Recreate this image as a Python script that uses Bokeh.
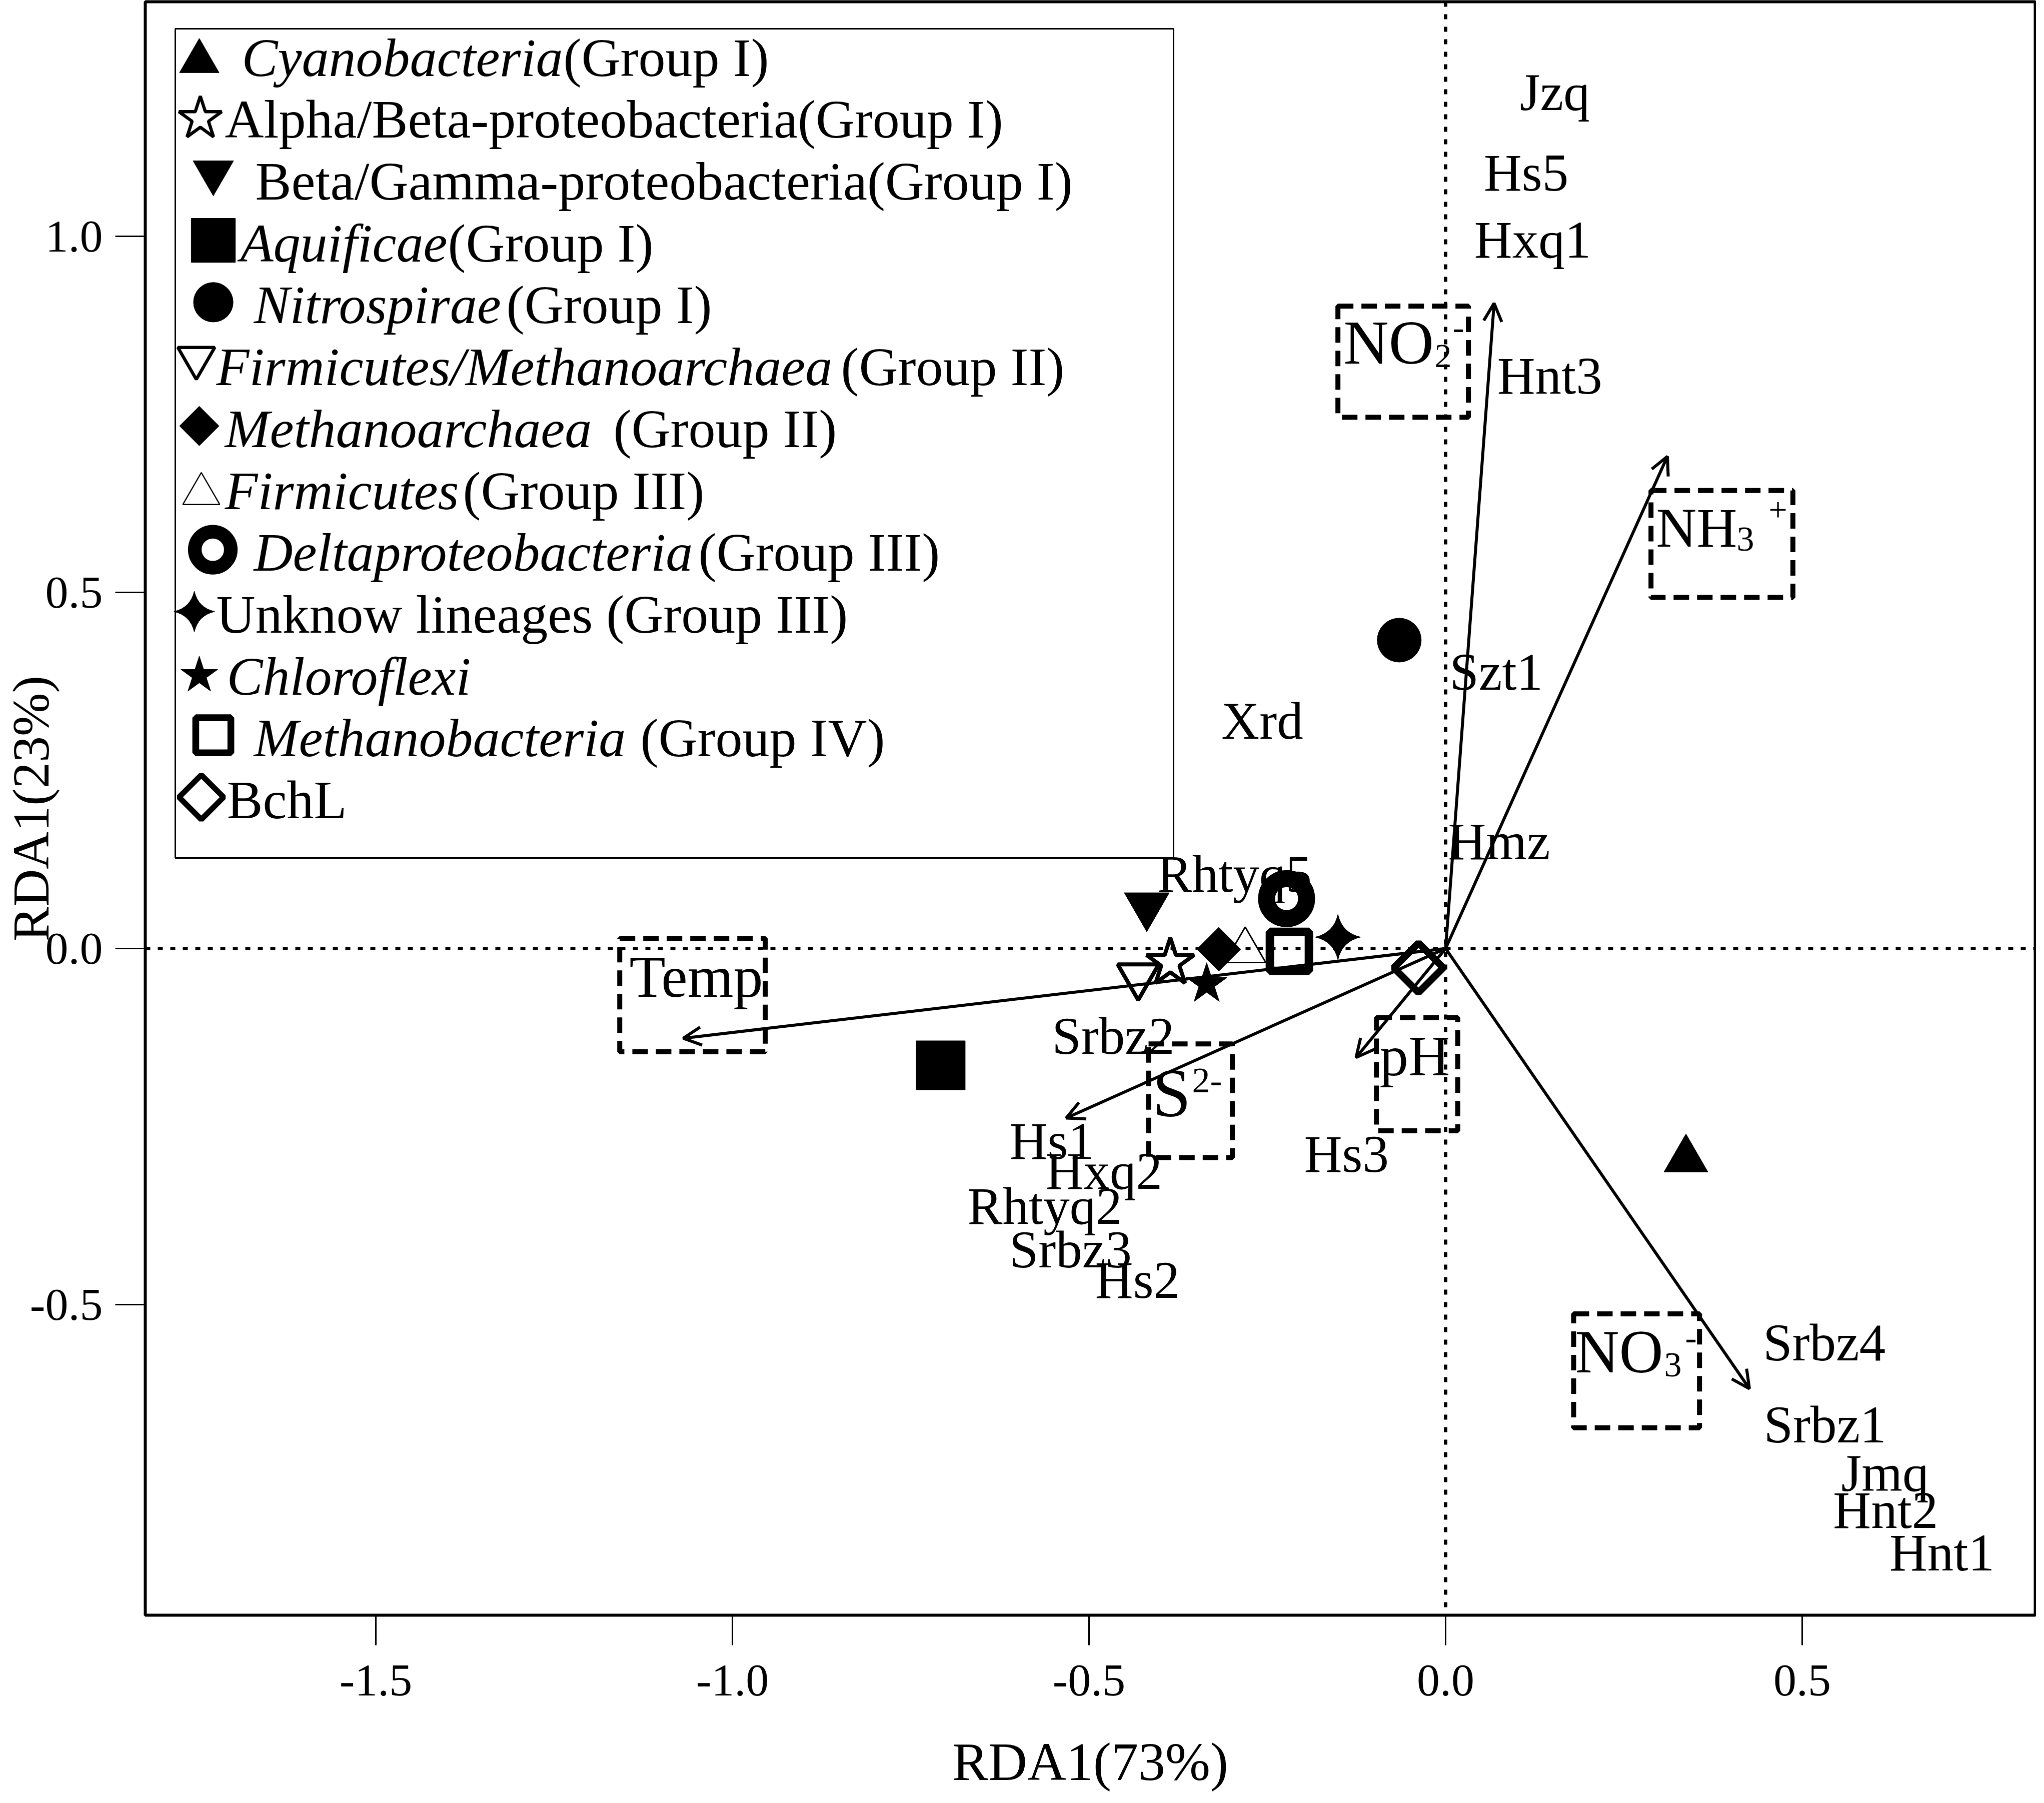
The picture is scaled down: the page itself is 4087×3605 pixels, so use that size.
from math import pi
from bokeh.plotting import figure
from bokeh.models import (Range1d, FixedTicker, PrintfTickFormatter, Span, Arrow,
                          OpenHead, ColumnDataSource)
from bokeh.core.properties import value
from bokeh.embed import file_html
from bokeh.resources import INLINE

FONT = "Liberation Serif"

# ---------------- data ----------------
taxa = ["Cyanobacteria", "Alpha/Beta-proteobacteria", "Beta/Gamma-proteobacteria",
        "Aquificae", "Nitrospirae", "Firmicutes/Methanoarchaea", "Methanoarchaea",
        "Firmicutes", "Deltaproteobacteria", "Unknow lineages", "Chloroflexi",
        "Methanobacteria", "BchL"]
taxa_x = [0.337, -0.386, -0.419, -0.708, -0.065, -0.431, -0.318,
          -0.281, -0.223, -0.151, -0.335, -0.219, -0.038]
taxa_y = [-0.296, -0.020, 0.060, -0.164, 0.433, -0.039, -0.001,
          -0.003, 0.070, 0.016, -0.050, -0.004, -0.027]

env = ["NO2-", "NH3+", "Temp", "S2-", "pH", "NO3-"]
env_x = [0.068, 0.311, -1.069, -0.532, -0.1255, 0.426]
env_y = [0.906, 0.691, -0.126, -0.238, -0.153, -0.618]
env_box_left = [-0.151, 0.288, -1.158, -0.4165, -0.097, 0.1795]
env_box_right = [0.032, 0.487, -0.954, -0.299, 0.017, 0.356]
env_box_top = [0.902, 0.643, 0.014, -0.134, -0.097, -0.513]
env_box_bottom = [0.746, 0.493, -0.145, -0.2935, -0.256, -0.673]

sites = ["Jzq", "Hs5", "Hxq1", "Hnt3", "Szt1", "Xrd", "Hmz", "Rhtyq5", "Srbz2", "Hs1",
         "Hxq2", "Rhtyq2", "Srbz3", "Hs2", "Hs3", "Srbz4", "Srbz1", "Jmq", "Hnt2", "Hnt1"]
site_x = [0.153, 0.113, 0.122, 0.146, 0.071, -0.257, 0.075, -0.296, -0.466, -0.552,
          -0.479, -0.562, -0.526, -0.432, -0.139, 0.531, 0.532, 0.616, 0.617, 0.696]
site_y = [1.181, 1.068, 0.974, 0.783, 0.367, 0.298, 0.129, 0.083, -0.144, -0.292,
          -0.334, -0.383, -0.444, -0.487, -0.310, -0.575, -0.690, -0.758, -0.810, -0.870]

x_ticks = [-1.5, -1.0, -0.5, 0.0, 0.5]
y_ticks = [-0.5, 0.0, 0.5, 1.0]
x_title = "RDA1(73%)"
y_title = "RDA1(23%)"

legend_italic = ["Cyanobacteria", "", "", "Aquificae", "Nitrospirae",
                 "Firmicutes/Methanoarchaea", "Methanoarchaea", "Firmicutes",
                 "Deltaproteobacteria", "", "Chloroflexi", "Methanobacteria", ""]
legend_normal = ["(Group I)", "Alpha/Beta-proteobacteria(Group I)",
                 "Beta/Gamma-proteobacteria(Group I)", "(Group I)", "(Group I)",
                 "(Group II)", "(Group II)", "(Group III)", "(Group III)",
                 "Unknow lineages (Group III)", "", "(Group IV)", "BchL"]

# ---------------- styles / layout ----------------
t_marker = ["triangle", "star", "inverted_triangle", "square", "circle",
            "inverted_triangle", "square", "triangle", "circle", "square_pin",
            "star", "square", "square"]
t_angle = [0, 0, 0, 0, 0, 0, pi / 4, 0, 0, pi / 4, 0, 0, pi / 4]
t_size = [88, 100, 90, 98, 88, 82, 62, 82, 80, 64, 86, 78, 70]
t_fill = [1, 0, 1, 1, 1, 0, 1, 0, 0, 1, 1, 0, 0]
t_lw = [1, 8, 1, 1, 1, 8, 1, 3, 34, 1, 1, 17, 14]

# reference-page pixel -> data helpers (layout only)
X0, Y0, PXX, PXY = 2898.0, 1904.0, 1426.0, 1424.0
def dx(px):
    return (px - X0) / PXX
def dy(py):
    return (Y0 - py) / PXY
TSH = 0.29  # baseline correction of the text glyph, in em
FL, FB = 298, 3237  # frame left / bottom on the page

W, H = 4071, 3589
p = figure(width=W, height=H, output_backend="svg", toolbar_location=None, title=None,
           x_range=Range1d(dx(FL), dx(4077)), y_range=Range1d(dy(FB), dy(11)),
           min_border_left=290, min_border_right=2, min_border_top=3,
           min_border_bottom=360)
p.background_fill_color = "white"
p.border_fill_color = "white"
p.outline_line_color = "black"
p.outline_line_width = 6
p.xgrid.visible = False
p.ygrid.visible = False

for ax in (p.xaxis[0], p.yaxis[0]):
    ax.axis_line_color = None
    ax.major_tick_out = 60
    ax.major_tick_in = 0
    ax.major_tick_line_width = 3
    ax.major_tick_line_color = "black"
    ax.minor_tick_line_color = None
    ax.major_label_text_font = FONT
    ax.major_label_text_font_size = "92px"
    ax.major_label_text_color = "black"
    ax.axis_label_text_font = FONT
    ax.axis_label_text_font_style = "normal"
    ax.axis_label_text_color = "black"
    ax.formatter = PrintfTickFormatter(format="%.1f")
p.xaxis.ticker = FixedTicker(ticks=x_ticks)
p.yaxis.ticker = FixedTicker(ticks=y_ticks)
p.xaxis.major_label_standoff = 40
p.yaxis.major_label_standoff = 25

# axis titles; the y one is pulled close to the tick labels so the frame keeps its place
p.xaxis.axis_label = x_title
p.xaxis.axis_label_text_font_size = "108px"
p.xaxis.axis_label_standoff = 70
p.yaxis.axis_label = y_title
p.yaxis.axis_label_text_font_size = "104px"
p.yaxis.axis_label_standoff = -62

# zero lines
p.add_layout(Span(location=0, dimension="width", line_color="black",
                  line_width=7, line_dash="10 15"))
p.add_layout(Span(location=0, dimension="height", line_color="black",
                  line_width=7, line_dash="10 15"))

# env arrows
asrc = ColumnDataSource(dict(x0=[0.0] * len(env), y0=[0.0] * len(env), x1=env_x, y1=env_y))
p.add_layout(Arrow(end=OpenHead(size=36, line_width=6, line_color="black"),
                   x_start="x0", y_start="y0", x_end="x1", y_end="y1", source=asrc,
                   line_width=6, line_color="black"))

# dashed env boxes
p.quad(left=env_box_left, right=env_box_right, top=env_box_top, bottom=env_box_bottom,
       fill_color=None, line_color="black", line_width=10, line_dash="31 16")

# env labels (main, subscript, superscript parts), reference pixel anchors
env_parts = [
    ("NO", 2694, 729, 125), ("2", 2876, 739, 68), ("-", 2912, 683, 70),
    ("NH", 3319, 1095, 112), ("3", 3480, 1106, 70), ("+", 3544, 1046, 66),
    ("Temp", 1266, 1995, 118),
    ("S", 2312, 2233, 138), ("2-", 2391, 2189, 72),
    ("pH", 2766, 2152, 115),
    ("NO", 3157, 2745, 122), ("3", 3335, 2757, 70), ("-", 3377, 2703, 70),
]
esrc = ColumnDataSource(dict(x=[dx(e[1]) for e in env_parts],
                             y=[dy(e[2] - TSH * e[3]) for e in env_parts],
                             t=[e[0] for e in env_parts], fs=["%dpx" % e[3] for e in env_parts]))
p.text(x="x", y="y", text="t", source=esrc, text_font=value(FONT), text_font_size="fs",
       text_align="left", text_baseline="alphabetic", text_color="black")

# site labels
SITE_FS = 105
p.text(x=site_x, y=[v + TSH * SITE_FS / PXY for v in site_y], text=sites,
       text_font=value(FONT), text_font_size="%dpx" % SITE_FS,
       text_align="center", text_baseline="alphabetic", text_color="black")

# taxa markers
tsrc = ColumnDataSource(dict(x=taxa_x, y=taxa_y, m=t_marker, a=t_angle, s=t_size,
                             fa=t_fill, lw=t_lw))
p.scatter(x="x", y="y", marker="m", angle="a", size="s", source=tsrc,
          fill_color="black", fill_alpha="fa", line_color="black", line_width="lw")

# ---------------- legend (drawn by hand to allow mixed italic text) ----------------
p.quad(left=[dx(358)], right=[dx(2354)], top=[dy(65)], bottom=[dy(1723)],
       fill_color=None, line_color="black", line_width=3)
n = len(taxa)
base_px = [154 + 123.7 * i for i in range(n)]
lm_px_x = [406, 408, 434, 434, 434, 400, 406, 410, 433, 396, 406, 434, 410]
lm_adj = [13, 4, -12, 0, 0, -12, 0, 12, 0, 0, 4, 0, 0]
lsrc = ColumnDataSource(dict(
    x=[dx(v) for v in lm_px_x],
    y=[dy(b - 37 + a) for b, a in zip(base_px, lm_adj)],
    m=t_marker, a=t_angle, s=[v * 0.9 for v in t_size], fa=t_fill,
    lw=[v * 0.8 if v > 2 else v for v in t_lw]))
p.scatter(x="x", y="y", marker="m", angle="a", size="s", source=lsrc,
          fill_color="black", fill_alpha="fa", line_color="black", line_width="lw")

LEG_FS = 108
it_px_x = [491, 0, 0, 488, 515, 440, 457, 457, 515, 0, 461, 515, 0]
nm_px_x = [1134, 457, 518, 903, 1020, 1689, 1234, 933, 1404, 440, 0, 1288, 461]
ii = [i for i in range(n) if legend_italic[i]]
ni = [i for i in range(n) if legend_normal[i]]
p.text(x=[dx(it_px_x[i]) for i in ii], y=[dy(base_px[i] - TSH * LEG_FS) for i in ii],
       text=[legend_italic[i] for i in ii], text_font=value(FONT),
       text_font_size="%dpx" % LEG_FS, text_font_style="italic", text_align="left",
       text_baseline="alphabetic", text_color="black")
p.text(x=[dx(nm_px_x[i]) for i in ni], y=[dy(base_px[i] - TSH * LEG_FS) for i in ni],
       text=[legend_normal[i] for i in ni], text_font=value(FONT),
       text_font_size="%dpx" % LEG_FS, text_align="left", text_baseline="alphabetic",
       text_color="black")

open("out.html", "w").write(file_html(p, INLINE))
